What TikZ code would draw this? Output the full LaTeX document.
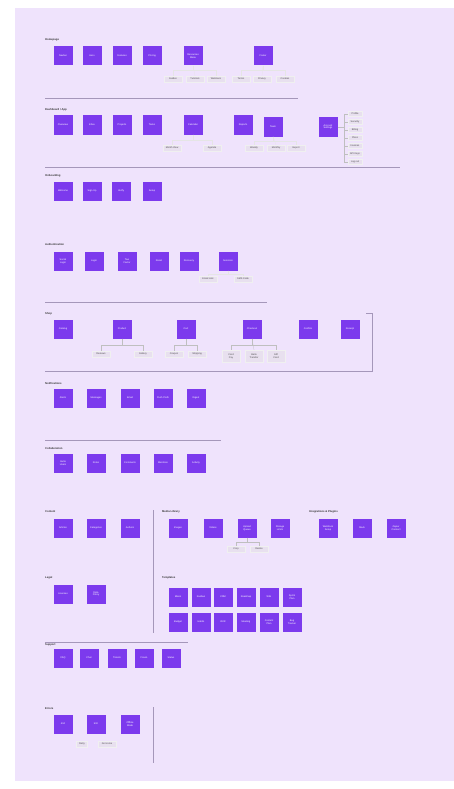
\documentclass[tikz,border=0pt]{standalone}
\usepackage{fontspec}
\setmainfont{Liberation Sans}
\usepackage{xcolor}
\usepackage{tikz}

\definecolor{canvas}{HTML}{EFE3FC}
\definecolor{pagefill}{HTML}{7C3AED}
\definecolor{rulecol}{HTML}{A597BA}
\definecolor{subfill}{HTML}{E8E0EF}

\begin{document}
\begin{tikzpicture}[x=1pt, y=-1pt,
  every node/.style={font=\fontsize{2.4}{2.8}\selectfont},
  page/.style={fill=pagefill, text=white, minimum width=19pt, minimum height=19pt,
               inner sep=0.5pt, text width=17pt, align=center},
  sub/.style={fill=subfill, draw=black!6, line width=0.2pt, text=black!70,
              minimum width=18pt, minimum height=6pt, inner sep=0.3pt, align=center},
  menu/.style={sub, minimum width=14pt, minimum height=5pt},
  ttl/.style={anchor=west, inner sep=0pt, text=black!80,
              font=\fontsize{2.7}{3}\selectfont\bfseries},
  sep/.style={draw=rulecol, line width=0.7pt},
  link/.style={draw=black!25, line width=0.25pt},
  faint/.style={draw=black!10, line width=0.25pt},
]
  \useasboundingbox (0,0) rectangle (454,789);
  \fill[white] (0,0) rectangle (454,789);
  \fill[canvas] (15,8) rectangle (454,781);

  % Homepage
  \node[ttl] (t1) at (45,40) {Homepage};
  \node[page] (h1) at (63,56) {Navbar};
  \node[page] (h2) at (92,56) {Hero};
  \node[page] (h3) at (122,56) {Features};
  \node[page] (h4) at (152,56) {Pricing};
  \node[page] (h5) at (193,56) {Resources\\Menu};
  \node[page] (h6) at (263,56) {Footer};
  \node[sub] (h51) at (173,79) {Guides};
  \node[sub] (h52) at (195,79) {Tutorials};
  \node[sub] (h53) at (216,79) {Webinars};
  \node[sub] (h61) at (241,79) {Terms};
  \node[sub] (h62) at (262,79) {Privacy};
  \node[sub] (h63) at (285,79) {Cookies};
  \draw[faint] (h5.south) -- ++(0,4) -| (h51.north);
  \draw[faint] (h5.south) -- (h52.north);
  \draw[faint] (h5.south) -- ++(0,4) -| (h53.north);
  \draw[faint] (h6.south) -- ++(0,4) -| (h61.north);
  \draw[faint] (h6.south) -- (h62.north);
  \draw[faint] (h6.south) -- ++(0,4) -| (h63.north);
  \draw[sep] (45,98) -- (298,98);

  % Dashboard
  \node[ttl] (t2) at (45,110) {Dashboard / App};
  \node[page] (d1) at (63,125) {Overview};
  \node[page] (d2) at (92,125) {Inbox};
  \node[page] (d3) at (122,125) {Projects};
  \node[page] (d4) at (152,125) {Tasks};
  \node[page] (d5) at (193,125) {Calendar};
  \node[page] (d6) at (243,125) {Reports};
  \node[page] (d7) at (273,127) {Team};
  \node[page] (d8) at (328,127) {Account\\Settings};
  \node[sub] (d51) at (172,148) {Month View};
  \node[sub] (d52) at (212,148) {Agenda};
  \node[sub] (d71) at (254,148) {Weekly};
  \node[sub] (d72) at (276,148) {Monthly};
  \node[sub] (d73) at (296,148) {Export};
  \draw[faint] (d5.south) -- ++(0,5) -| (d51.north);
  \draw[faint] (d5.south) -- ++(0,5) -| (d52.north);
  \draw[faint] (d7.south) -- ++(0,4) -| (d71.north);
  \draw[faint] (d7.south) -- (d72.north);
  \draw[faint] (d7.south) -- ++(0,4) -| (d73.north);
  % account menu
  \node[menu] (m1) at (355,114) {Profile};
  \node[menu] (m2) at (355,122) {Security};
  \node[menu] (m3) at (355,130) {Billing};
  \node[menu] (m4) at (355,138) {Plans};
  \node[menu] (m5) at (355,146) {Invoices};
  \node[menu] (m6) at (355,154) {API Keys};
  \node[menu] (m7) at (355,162) {Log out};
  \coordinate (brk) at (344,127);
  \draw[link] (d8.east) -- (brk);
  \draw[link] (brk |- m1) -- (brk |- m7);
  \draw[link] (brk |- m1) -- (m1.west);
  \draw[link] (brk |- m2) -- (m2.west);
  \draw[link] (brk |- m3) -- (m3.west);
  \draw[link] (brk |- m4) -- (m4.west);
  \draw[link] (brk |- m5) -- (m5.west);
  \draw[link] (brk |- m6) -- (m6.west);
  \draw[link] (brk |- m7) -- (m7.west);
  \draw[sep] (45,167) -- (400,167);

  % Onboarding
  \node[ttl] (t3) at (45,176) {Onboarding};
  \node[page] (o1) at (63,191) {Welcome};
  \node[page] (o2) at (92,191) {Sign Up};
  \node[page] (o3) at (121,191) {Verify};
  \node[page] (o4) at (152,191) {Setup};

  % Authentication
  \node[ttl] (t4) at (45,245) {Authentication};
  \node[page] (a1) at (63,261) {Social\\Login};
  \node[page] (a2) at (94,261) {Login};
  \node[page] (a3) at (127,261) {Two\\Factor};
  \node[page] (a4) at (159,261) {Reset};
  \node[page] (a5) at (189,261) {Recovery};
  \node[page] (a6) at (228,261) {Sessions};
  \node[sub] (a61) at (208,279) {Email Link};
  \node[sub] (a62) at (243,279) {SMS Code};
  \draw[faint] (a6.south) -- ++(0,3) -| (a61.north);
  \draw[faint] (a6.south) -- ++(0,3) -| (a62.north);
  \draw[sep] (45,302) -- (267,302);

  % Shop
  \node[ttl] (t5) at (45,314) {Shop};
  \node[page] (s1) at (63,329) {Catalog};
  \node[page] (s2) at (122,329) {Product};
  \node[page] (s3) at (186,329) {Cart};
  \node[page] (s4) at (252,329) {Checkout};
  \node[page] (s5) at (308,329) {Confirm};
  \node[page] (s6) at (350,329) {Receipt};
  \node[sub] (s21) at (101,354) {Reviews};
  \node[sub] (s22) at (143,354) {Gallery};
  \node[sub] (s31) at (174,354) {Coupon};
  \node[sub] (s32) at (197,354) {Shipping};
  \node[sub, minimum height=12pt] (s41) at (231,356) {Card\\Pay};
  \node[sub, minimum height=12pt] (s42) at (254,356) {Bank\\Transfer};
  \node[sub, minimum height=12pt] (s43) at (276,356) {Gift\\Card};
  \draw[link] (s2.south) -- ++(0,6) -| (s21.north);
  \draw[link] (s2.south) -- ++(0,6) -| (s22.north);
  \draw[link] (s3.south) -- ++(0,6) -| (s31.north);
  \draw[link] (s3.south) -- ++(0,6) -| (s32.north);
  \draw[link] (s4.south) -- ++(0,6) -| (s41.north);
  \draw[link] (s4.south) -- (s42.north);
  \draw[link] (s4.south) -- ++(0,6) -| (s43.north);
  \draw[sep] (366,313) -- (372,313) -- (372,371) -- (45,371);

  % Notifications
  \node[ttl] (t6) at (45,384) {Notifications};
  \node[page] (n1) at (63,398) {Alerts};
  \node[page] (n2) at (96,398) {Messages};
  \node[page] (n3) at (130,398) {Email};
  \node[page] (n4) at (163,398) {Push Prefs};
  \node[page] (n5) at (196,398) {Digest};
  \draw[sep] (45,440) -- (221,440);

  % Collaboration
  \node[ttl] (t7) at (45,449) {Collaboration};
  \node[page] (c1) at (63,463) {Invite\\Users};
  \node[page] (c2) at (96,463) {Roles};
  \node[page] (c3) at (130,463) {Comments};
  \node[page] (c4) at (163,463) {Mentions};
  \node[page] (c5) at (196,463) {Activity};

  % Content / Media / Integrations
  \node[ttl] (t8) at (45,512) {Content};
  \node[page] (w1) at (63,528) {Articles};
  \node[page] (w2) at (96,528) {Categories};
  \node[page] (w3) at (130,528) {Authors};
  \node[ttl] (t9) at (162,512) {Media Library};
  \node[page] (l1) at (178,528) {Images};
  \node[page] (l2) at (213,528) {Videos};
  \node[page] (l3) at (247,528) {Upload\\Queue};
  \node[page] (l4) at (280,528) {Storage\\Limits};
  \node[sub] (l31) at (236,549) {Crop};
  \node[sub] (l32) at (259,549) {Resize};
  \draw[link] (l3.south) -- ++(0,4) -| (l31.north);
  \draw[link] (l3.south) -- ++(0,4) -| (l32.north);
  \node[ttl] (t10) at (309,512) {Integrations \& Plugins};
  \node[page] (i1) at (328,528) {Webhook\\Setup};
  \node[page] (i2) at (362,528) {Slack};
  \node[page] (i3) at (396,528) {Zapier\\Connect};
  \draw[sep, line width=0.5pt] (153,510) -- (153,633);

  % Legal / Templates
  \node[ttl] (t11) at (45,578) {Legal};
  \node[page] (g1) at (63,594) {Licenses};
  \node[page] (g2) at (96,594) {Data\\Policy};
  \node[ttl] (t12) at (162,578) {Templates};
  \node[page] (k1) at (178,597) {Blank};
  \node[page] (k2) at (201,597) {Kanban};
  \node[page] (k3) at (223,597) {CRM};
  \node[page] (k4) at (246,597) {Roadmap};
  \node[page] (k5) at (269,597) {Wiki};
  \node[page] (k6) at (292,597) {Sprint\\Plan};
  \node[page] (k7) at (178,622) {Budget};
  \node[page] (k8) at (201,622) {Habits};
  \node[page] (k9) at (223,622) {OKR};
  \node[page] (k10) at (246,622) {Meeting};
  \node[page] (k11) at (269,622) {Content\\Plan};
  \node[page] (k12) at (292,622) {Bug\\Tracker};

  % Support
  \draw[sep] (45,642) -- (188,642);
  \node[ttl] (t13) at (45,645) {Support};
  \node[page] (u1) at (63,658) {FAQ};
  \node[page] (u2) at (89,658) {Chat};
  \node[page] (u3) at (117,658) {Tickets};
  \node[page] (u4) at (144,658) {Forum};
  \node[page] (u5) at (171,658) {Status};

  % Errors
  \node[ttl] (t14) at (45,709) {Errors};
  \node[page] (e1) at (63,724) {404};
  \node[page] (e2) at (96,724) {500};
  \node[page] (e3) at (130,724) {Offline\\Mode};
  \node[sub, minimum width=11pt] (e11) at (82,744) {Retry};
  \node[sub] (e12) at (107,744) {Go Home};
  \draw[sep, line width=0.5pt] (153,707) -- (153,763);
\end{tikzpicture}
\end{document}
